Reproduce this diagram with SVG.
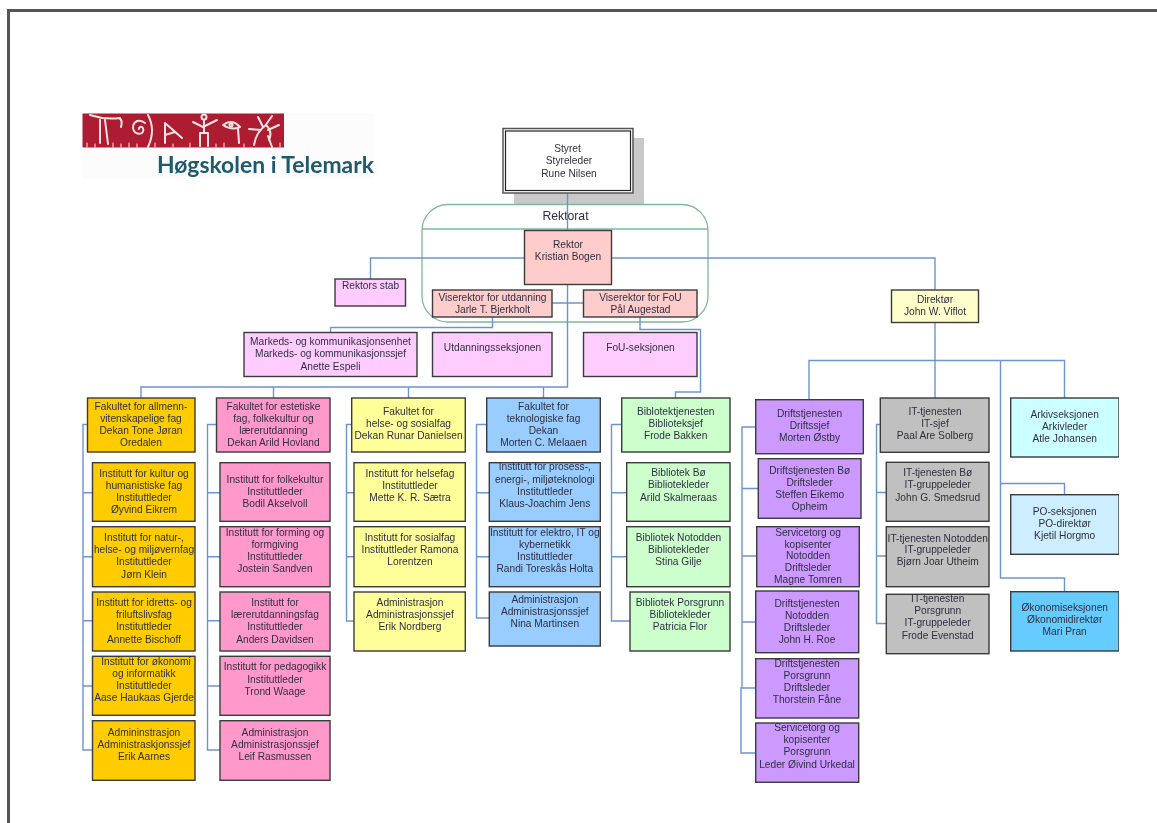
<svg xmlns="http://www.w3.org/2000/svg" width="1157" height="823" viewBox="0 0 1157 823">
<defs><filter id="soft" x="0" y="0" width="100%" height="100%"><feGaussianBlur stdDeviation="0.35"/></filter></defs>
<style>
text{font-family:"Liberation Sans",Arial,sans-serif;font-size:10.2px;fill:#2f2f40;text-anchor:middle}
.b{stroke:#3a3a3a;stroke-width:1.4}
.c{fill:none;stroke:#6c93d2;stroke-width:1.4}
.g{fill:none;stroke:#f6e4e4;stroke-width:2;stroke-linecap:round;stroke-linejoin:round}
.or{fill:#ffcc00}.pk{fill:#ff99cc}.ye{fill:#ffff99}.bl{fill:#99ccff}.gr{fill:#ccffcc}.pu{fill:#cc99ff}.gy{fill:#c0c0c0}.cy{fill:#ccffff}.sk{fill:#cceeff}.ok{fill:#66ccff}.rs{fill:#ffcccc}.mg{fill:#ffccff}.lt{fill:#ffffcc}
</style>
<rect width="1157" height="823" fill="#fff"/>
<path d="M8.500 823V10.500H1157" fill="none" stroke="#555" stroke-width="3"/>
<g filter="url(#soft)">
<g id="logo">
<rect x="82" y="113" width="292" height="66" fill="#fcfcfc"/>
<rect x="82.500" y="113.500" width="201.500" height="34" fill="#ae1c30"/>
<path class="g" d="M90 115Q105 120 120 118M100 120L100 143M105 120L108 144M119 118Q123 120 121 127"/>
<path class="g" d="M139 129a2 2 0 0 1 3 -2a4 4 0 0 1 0 6a6 6 0 0 1 -8 -2a7 7 0 0 1 3 -10a9 9 0 0 1 8 2M148 115Q156 130 148 147"/>
<path class="g" d="M165 143L165 123L182 138M165 135L175 132"/>
<circle class="g" cx="204" cy="117" r="2.500"/>
<path class="g" d="M193 122L203 127L217 120M204 120L204 133M200 146L200 133L208 133L208 146"/>
<path class="g" d="M223 125Q232 118 240 127Q232 131 223 125ZM238 128L239 143"/>
<circle class="g" cx="231" cy="125" r="1.500"/>
<path class="g" d="M254 145Q256 132 266 125Q273 132 269 140M249 129L261 130M258 117L263 127M272 116L265 126M279 125L268 130M272 147L268 136"/>
<path class="g" style="stroke-width:1" d="M87 147V143M95 147V144M113 147V143M121 147V144M129 147V143M137 147V144M155 147V143M173 147V144M190 147V143M216 147V144M224 147V143M244 147V144M280 147V143"/>
<text x="265.500" y="173" style="font-family:Lato,sans-serif;font-weight:700;font-size:22px;fill:#1f5a6c" textLength="217" lengthAdjust="spacingAndGlyphs">Høgskolen i Telemark</text>
</g>
<g id="styret-shadow"><rect x="514" y="138" width="130" height="66" fill="#c8c8c8"/></g>
<g id="rektorat">
<rect x="422" y="204.500" width="286" height="117.500" rx="26" fill="none" stroke="#7fb89a" stroke-width="1.300"/>
<path d="M422 229H708" stroke="#7fb89a" stroke-width="1.300"/>
<text x="565.500" y="220" style="font-size:12.200px">Rektorat</text>
</g>
<g id="connectors">
<path class="c" d="M567.500 193V231M524 258H370.500V279M611 258H935V290M567.500 284V387H141V398M273.500 387V398M408.500 387V398M543.500 387V398"/>
<path class="c" d="M552 303H584M492.500 317V327.500H330.500V332M640 317V329.500H700.500V392H675.500V398"/>
<path class="c" d="M935 322V398M809 400V360.500H1064.500V398M1000.500 360.500V578H1064.500V592M1000.500 483.500H1064.500V495"/>
<path class="c" d="M755.500 427H742V688M758 488.500H742M757 556H742M756 622H742M756 688H741V753H756"/>
<path class="c" d="M880.500 424.500H876.500V623.500H886.500M886.500 492.500H876.500M886.500 556H876.500"/>
<path class="c" d="M87.500 424.500H83V750H92.500M92.500 492.700H83M92.500 556.700H83M92.500 620.700H83M92.500 686H83"/>
<path class="c" d="M216.500 424.500H207.500V750H220M220 492.700H207.500M220 556.700H207.500M220 620.700H207.500M220 686H207.500"/>
<path class="c" d="M352 424.500H346.500V621H354M354 492.700H346.500M354 556.700H346.500"/>
<path class="c" d="M487 424.500H476.500V618H489.500M489.500 492.700H476.500M489.500 556.700H476.500"/>
<path class="c" d="M622 424.500H611.500V621H630M627 492.700H611.500M627 556.700H611.500"/>
</g>
<g id="styret"><rect x="503" y="128.500" width="130" height="64.500" fill="#fff" stroke="#555" stroke-width="1.500"/><rect x="505.500" y="131" width="125" height="59.500" fill="#fff" stroke="#222" stroke-width="1.200"/><text><tspan x="567.500" y="151.500">Styret</tspan><tspan x="569" y="164">Styreleder</tspan><tspan x="569" y="176.500">Rune Nilsen</tspan></text></g>
<g id="rektor"><rect class="b rs" x="524.500" y="230.500" width="87" height="54"/><text><tspan x="568" y="248">Rektor</tspan><tspan x="568" y="260">Kristian Bogen</tspan></text></g>
<g id="rektors-stab"><rect class="b mg" x="335" y="279" width="70.500" height="27"/><text><tspan x="370.500" y="289">Rektors stab</tspan></text></g>
<g id="viserektor-utdanning"><rect class="b rs" x="432.500" y="290" width="119.500" height="27"/><text><tspan x="492.500" y="300.500">Viserektor for utdanning</tspan><tspan x="492.500" y="312.500">Jarle T. Bjerkholt</tspan></text></g>
<g id="viserektor-fou"><rect class="b rs" x="583.500" y="290" width="113.500" height="27"/><text><tspan x="640.500" y="300.500">Viserektor for FoU</tspan><tspan x="640.500" y="312.500">Pål Augestad</tspan></text></g>
<g id="markeds"><rect class="b mg" x="244" y="332.500" width="173" height="44"/><text><tspan x="330.500" y="345">Markeds- og kommunikasjonsenhet</tspan><tspan x="330.500" y="357.300">Markeds- og kommunikasjonssjef</tspan><tspan x="330.500" y="369.700">Anette Espeli</tspan></text></g>
<g id="utdanningsseksjonen"><rect class="b mg" x="432.500" y="332.500" width="119.500" height="44"/><text><tspan x="492.500" y="351">Utdanningsseksjonen</tspan></text></g>
<g id="fou-seksjonen"><rect class="b mg" x="583.500" y="332.500" width="113.500" height="44"/><text><tspan x="640.500" y="351">FoU-seksjonen</tspan></text></g>
<g id="direktor"><rect class="b lt" x="891.500" y="290" width="87" height="32.500"/><text><tspan x="935" y="303">Direktør</tspan><tspan x="935" y="315">John W. Viflot</tspan></text></g>

<g id="fak-allmenn"><rect class="b or" x="87.500" y="398" width="107.500" height="54"/><text><tspan x="141" y="409.500">Fakultet for allmenn-</tspan><tspan x="141" y="421.500">vitenskapelige fag</tspan><tspan x="141" y="433.500">Dekan Tone Jøran</tspan><tspan x="141" y="445.500">Oredalen</tspan></text></g>
<g id="inst-kultur"><rect class="b or" x="92.500" y="462.700" width="102.500" height="58.600"/><text><tspan x="144" y="476.700">Institutt for kultur og</tspan><tspan x="144" y="488.700">humanistiske fag</tspan><tspan x="144" y="501">Instituttleder</tspan><tspan x="144" y="513">Øyvind Eikrem</tspan></text></g>
<g id="inst-natur"><rect class="b or" x="92.500" y="526.700" width="102.500" height="60"/><text><tspan x="144" y="541">Institutt for natur-,</tspan><tspan x="144" y="553">helse- og miljøvernfag</tspan><tspan x="144" y="565">Instituttleder</tspan><tspan x="144" y="577.500">Jørn Klein</tspan></text></g>
<g id="inst-idrett"><rect class="b or" x="92.500" y="592" width="102.500" height="59"/><text><tspan x="144" y="606">Institutt for idretts- og</tspan><tspan x="144" y="618">friluftslivsfag</tspan><tspan x="144" y="630">Instituttleder</tspan><tspan x="144" y="643">Annette Bischoff</tspan></text></g>
<g id="inst-okonomi"><rect class="b or" x="92.500" y="656.300" width="102.500" height="59"/><text><tspan x="146" y="664.500">Institutt for økonomi</tspan><tspan x="144" y="676.500">og informatikk</tspan><tspan x="144" y="689">Instituttleder</tspan><tspan x="144" y="701">Aase Haukaas Gjerde</tspan></text></g>
<g id="admin-allmenn"><rect class="b or" x="92.500" y="720.700" width="102.500" height="59.600"/><text><tspan x="144" y="735.500">Admininstrasjon</tspan><tspan x="144" y="747.500">Administraskjonssjef</tspan><tspan x="144" y="759.500">Erik Aarnes</tspan></text></g>

<g id="fak-estetisk"><rect class="b pk" x="216.500" y="398" width="113.500" height="54"/><text><tspan x="273.500" y="409.500">Fakultet for estetiske</tspan><tspan x="273.500" y="421.500">fag, folkekultur og</tspan><tspan x="273.500" y="433.500">lærerutdanning</tspan><tspan x="273.500" y="445.500">Dekan Arild Hovland</tspan></text></g>
<g id="inst-folkekultur"><rect class="b pk" x="220" y="462.700" width="110" height="58.600"/><text><tspan x="275" y="483">Institutt for folkekultur</tspan><tspan x="275" y="495">Instituttleder</tspan><tspan x="275" y="507">Bodil Akselvoll</tspan></text></g>
<g id="inst-forming"><rect class="b pk" x="220" y="526.700" width="110" height="60"/><text><tspan x="275" y="535.500">Institutt for forming og</tspan><tspan x="275" y="547.500">formgiving</tspan><tspan x="275" y="559.500">Instituttleder</tspan><tspan x="275" y="571.500">Jostein Sandven</tspan></text></g>
<g id="inst-larerutdanning"><rect class="b pk" x="220" y="592" width="110" height="59"/><text><tspan x="275" y="605.700">Institutt for</tspan><tspan x="275" y="618">lærerutdanningsfag</tspan><tspan x="275" y="630">Instituttleder</tspan><tspan x="275" y="643">Anders Davidsen</tspan></text></g>
<g id="inst-pedagogikk"><rect class="b pk" x="220" y="656.300" width="110" height="59"/><text><tspan x="275" y="670.300">Institutt for pedagogikk</tspan><tspan x="275" y="682.500">Instituttleder</tspan><tspan x="275" y="695">Trond Waage</tspan></text></g>
<g id="admin-estetisk"><rect class="b pk" x="220" y="720.700" width="110" height="59.600"/><text><tspan x="275" y="735.500">Administrasjon</tspan><tspan x="275" y="747.500">Administrasjonssjef</tspan><tspan x="275" y="759.500">Leif Rasmussen</tspan></text></g>

<g id="fak-helse"><rect class="b ye" x="351.700" y="398" width="113.600" height="54"/><text><tspan x="408.500" y="415.300">Fakultet for</tspan><tspan x="408.500" y="427.300">helse- og sosialfag</tspan><tspan x="408.500" y="439.300">Dekan Runar Danielsen</tspan></text></g>
<g id="inst-helsefag"><rect class="b ye" x="354" y="462.700" width="111.300" height="58.600"/><text><tspan x="410" y="476.700">Institutt for helsefag</tspan><tspan x="410" y="488.700">Instituttleder</tspan><tspan x="410" y="501">Mette K. R. Sætra</tspan></text></g>
<g id="inst-sosialfag"><rect class="b ye" x="354" y="526.700" width="111.300" height="60"/><text><tspan x="410" y="541.300">Institutt for sosialfag</tspan><tspan x="410" y="553.300">Instituttleder Ramona</tspan><tspan x="410" y="565.300">Lorentzen</tspan></text></g>
<g id="admin-helse"><rect class="b ye" x="354" y="592" width="111.300" height="59"/><text><tspan x="410" y="605.700">Administrasjon</tspan><tspan x="410" y="618">Administrasjonssjef</tspan><tspan x="410" y="630">Erik Nordberg</tspan></text></g>

<g id="fak-teknologi"><rect class="b bl" x="486.700" y="398" width="113.600" height="54"/><text><tspan x="543.500" y="409.500">Fakultet for</tspan><tspan x="543.500" y="421.500">teknologiske fag</tspan><tspan x="543.500" y="433.500">Dekan</tspan><tspan x="543.500" y="445.500">Morten C. Melaaen</tspan></text></g>
<g id="inst-prosess"><rect class="b bl" x="489.300" y="462.700" width="111" height="58.600"/><text><tspan x="544.800" y="470.300">Institutt for prosess-,</tspan><tspan x="544.800" y="482.700">energi-, miljøteknologi</tspan><tspan x="544.800" y="494.700">Instituttleder</tspan><tspan x="544.800" y="507">Klaus-Joachim Jens</tspan></text></g>
<g id="inst-elektro"><rect class="b bl" x="489.300" y="526.700" width="111" height="60"/><text><tspan x="544.800" y="535.700">Institutt for elektro, IT og</tspan><tspan x="544.800" y="547.700">kybernetikk</tspan><tspan x="544.800" y="559.700">Instituttleder</tspan><tspan x="544.800" y="571.700">Randi Toreskås Holta</tspan></text></g>
<g id="admin-teknologi"><rect class="b bl" x="489.300" y="592" width="111" height="54"/><text><tspan x="544.800" y="603">Administrasjon</tspan><tspan x="544.800" y="615">Administrasjonssjef</tspan><tspan x="544.800" y="627">Nina Martinsen</tspan></text></g>

<g id="bibliotek"><rect class="b gr" x="621.700" y="398" width="108.300" height="54"/><text><tspan x="675.700" y="415.300">Biblotektjenesten</tspan><tspan x="675.700" y="427.300">Biblioteksjef</tspan><tspan x="675.700" y="439.300">Frode Bakken</tspan></text></g>
<g id="bibliotek-bo"><rect class="b gr" x="626.700" y="462.700" width="103.300" height="58.600"/><text><tspan x="678.500" y="476">Bibliotek Bø</tspan><tspan x="678.500" y="488.300">Bibliotekleder</tspan><tspan x="678.500" y="500.700">Arild Skalmeraas</tspan></text></g>
<g id="bibliotek-notodden"><rect class="b gr" x="626.700" y="526.700" width="103.300" height="60"/><text><tspan x="678.500" y="541.300">Bibliotek Notodden</tspan><tspan x="678.500" y="553.300">Bibliotekleder</tspan><tspan x="678.500" y="565.300">Stina Gilje</tspan></text></g>
<g id="bibliotek-porsgrunn"><rect class="b gr" x="630" y="592" width="100" height="59"/><text><tspan x="680" y="605.700">Bibliotek Porsgrunn</tspan><tspan x="680" y="617.700">Bibliotekleder</tspan><tspan x="680" y="629.700">Patricia Flor</tspan></text></g>

<g id="drift"><rect class="b pu" x="755.700" y="399.700" width="107.600" height="54"/><text><tspan x="809.500" y="417">Driftstjenesten</tspan><tspan x="809.500" y="429.300">Driftssjef</tspan><tspan x="809.500" y="441.300">Morten Østby</tspan></text></g>
<g id="drift-bo"><rect class="b pu" x="758.300" y="458.700" width="102.700" height="59.600"/><text><tspan x="809.700" y="473.700">Driftstjenesten Bø</tspan><tspan x="809.700" y="485.700">Driftsleder</tspan><tspan x="809.700" y="497.700">Steffen Eikemo</tspan><tspan x="809.700" y="509.700">Opheim</tspan></text></g>
<g id="service-notodden"><rect class="b pu" x="756.700" y="526.700" width="102.600" height="60"/><text><tspan x="808" y="535.700">Servicetorg og</tspan><tspan x="808" y="547.700">kopisenter</tspan><tspan x="808" y="559.300">Notodden</tspan><tspan x="808" y="571.300">Driftsleder</tspan><tspan x="808" y="583.300">Magne Tomren</tspan></text></g>
<g id="drift-notodden"><rect class="b pu" x="755.700" y="591" width="103" height="61.700"/><text><tspan x="807" y="606.700">Driftstjenesten</tspan><tspan x="807" y="618.700">Notodden</tspan><tspan x="807" y="630.700">Driftsleder</tspan><tspan x="807" y="643">John H. Roe</tspan></text></g>
<g id="drift-porsgrunn"><rect class="b pu" x="755.700" y="658.700" width="103" height="59.300"/><text><tspan x="807" y="666.700">Driftstjenesten</tspan><tspan x="807" y="678.700">Porsgrunn</tspan><tspan x="807" y="690.700">Driftsleder</tspan><tspan x="807" y="702.700">Thorstein Fåne</tspan></text></g>
<g id="service-porsgrunn"><rect class="b pu" x="755.700" y="723" width="103" height="59.300"/><text><tspan x="807" y="731">Servicetorg og</tspan><tspan x="807" y="743">kopisenter</tspan><tspan x="807" y="755">Porsgrunn</tspan><tspan x="807" y="767.500">Leder Øivind Urkedal</tspan></text></g>

<g id="it"><rect class="b gy" x="880.300" y="398" width="108.700" height="54.300"/><text><tspan x="935" y="415.300">IT-tjenesten</tspan><tspan x="935" y="427.300">IT-sjef</tspan><tspan x="935" y="439.300">Paal Are Solberg</tspan></text></g>
<g id="it-bo"><rect class="b gy" x="886.300" y="462.300" width="102.700" height="59"/><text><tspan x="937.700" y="476.300">IT-tjenesten Bø</tspan><tspan x="937.700" y="488.300">IT-gruppeleder</tspan><tspan x="937.700" y="500.700">John G. Smedsrud</tspan></text></g>
<g id="it-notodden"><rect class="b gy" x="886.300" y="526.700" width="102.700" height="60"/><text><tspan x="937.700" y="541.700">IT-tjenesten Notodden</tspan><tspan x="937.700" y="553.300">IT-gruppeleder</tspan><tspan x="937.700" y="565.300">Bjørn Joar Utheim</tspan></text></g>
<g id="it-porsgrunn"><rect class="b gy" x="886.300" y="594.300" width="102.700" height="59.400"/><text><tspan x="937.700" y="602.300">IT-tjenesten</tspan><tspan x="937.700" y="614.300">Porsgrunn</tspan><tspan x="937.700" y="626.300">IT-gruppeleder</tspan><tspan x="937.700" y="638.700">Frode Evenstad</tspan></text></g>

<g id="arkiv"><rect class="b cy" x="1010.700" y="398" width="108.300" height="59"/><text><tspan x="1064.700" y="417.700">Arkivseksjonen</tspan><tspan x="1064.700" y="429.700">Arkivleder</tspan><tspan x="1064.700" y="441.700">Atle Johansen</tspan></text></g>
<g id="po"><rect class="b sk" x="1010.700" y="494.700" width="108.300" height="59.600"/><text><tspan x="1064.700" y="514.700">PO-seksjonen</tspan><tspan x="1064.700" y="526.700">PO-direktør</tspan><tspan x="1064.700" y="538.700">Kjetil Horgmo</tspan></text></g>
<g id="okonomi"><rect class="b ok" x="1010.700" y="591.700" width="108.300" height="59.300"/><text><tspan x="1064.700" y="611.300">Økonomiseksjonen</tspan><tspan x="1064.700" y="623.300">Økonomidirektør</tspan><tspan x="1064.700" y="635.300">Mari Pran</tspan></text></g>
</g>
</svg>
